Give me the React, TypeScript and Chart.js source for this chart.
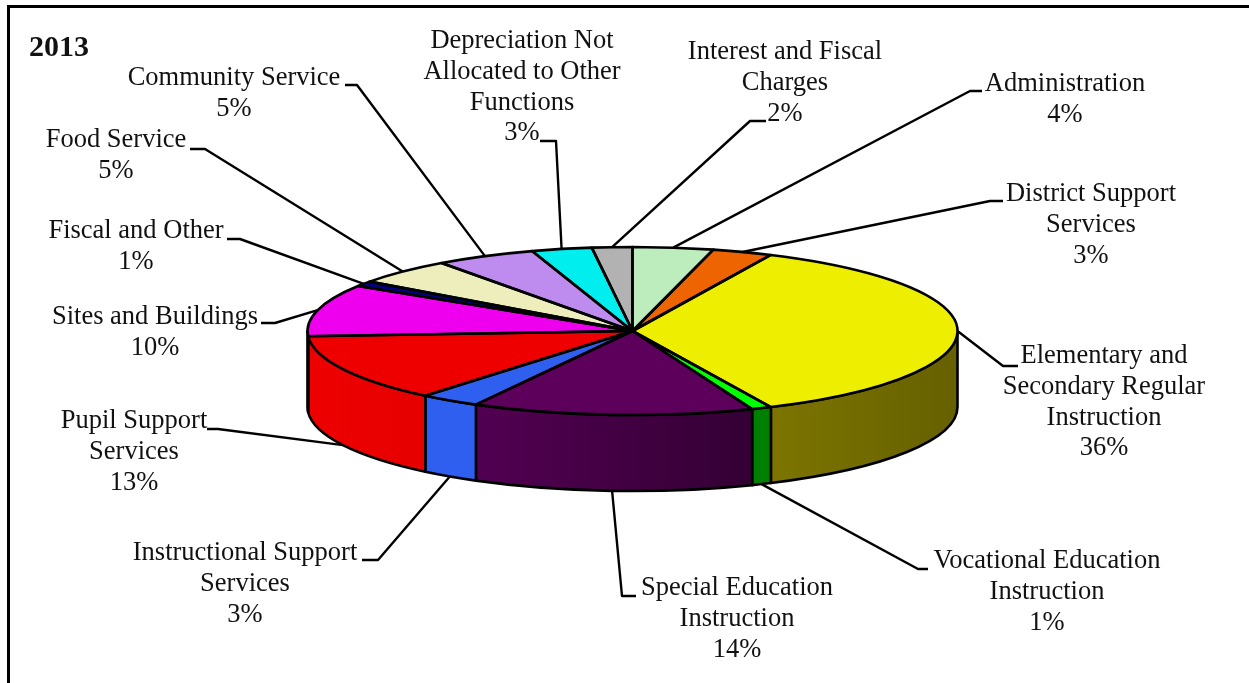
import React, { useEffect, useRef } from "react";
import { Chart, registerables } from "chart.js";

Chart.register(...registerables);

// Spending shares for 2013, clockwise from twelve o'clock.
const categories = [
  ["Administration"],
  ["District Support", "Services"],
  ["Elementary and", "Secondary Regular", "Instruction"],
  ["Vocational Education", "Instruction"],
  ["Special Education", "Instruction"],
  ["Instructional Support", "Services"],
  ["Pupil Support", "Services"],
  ["Sites and Buildings"],
  ["Fiscal and Other"],
  ["Food Service"],
  ["Community Service"],
  ["Depreciation Not", "Allocated to Other", "Functions"],
  ["Interest and Fiscal", "Charges"],
];
const shares = [4, 3, 36, 1, 14, 3, 13, 10, 1, 5, 5, 3, 2];
const yearLabel = "2013";

const topColors = [
  "#BDEDBD", "#EE6400", "#EEEE00", "#00FF00", "#5C005C", "#2F5FEE", "#EE0000",
  "#EE00EE", "#000080", "#EEEEBD", "#BD8CEE", "#00EEEE", "#B2B2B2",
];
// Left and right shade of each slice's outer wall.
const wallColors: [string, string][] = [
  ["#BDEDBD", "#BDEDBD"], ["#EE6400", "#EE6400"], ["#7C7500", "#666000"],
  ["#008000", "#008000"], ["#520052", "#340034"], ["#2F5FEE", "#2F5FEE"],
  ["#EE0000", "#E60000"], ["#EE00EE", "#EE00EE"], ["#000080", "#000080"],
  ["#EEEEBD", "#EEEEBD"], ["#BD8CEE", "#BD8CEE"], ["#00EEEE", "#00EEEE"],
  ["#B2B2B2", "#B2B2B2"],
];

// Label placement per slice: text centre, first line's middle, and the leader's elbow and end.
const labelLayout = [
  { cx: 1065, top: 84.5, elbow: [970, 91], end: [982, 91] },
  { cx: 1091, top: 194.5, elbow: [990, 201], end: [1003, 201] },
  { cx: 1104, top: 356.5, elbow: [1003, 366], end: [1018, 366] },
  { cx: 1047, top: 561.5, elbow: [918, 569], end: [928, 569] },
  { cx: 737, top: 588.5, elbow: [622, 596], end: [636, 596] },
  { cx: 245, top: 553.5, elbow: [378, 560], end: [362, 560] },
  { cx: 134, top: 421.5, elbow: [218, 429], end: [207, 429] },
  { cx: 155, top: 317.5, elbow: [275, 323], end: [261, 323] },
  { cx: 136, top: 231.5, elbow: [240, 239], end: [227, 239] },
  { cx: 116, top: 140.5, elbow: [205, 149], end: [190, 149] },
  { cx: 234, top: 78.5, elbow: [357, 85], end: [345, 85] },
  { cx: 522, top: 41.5, elbow: [556, 141], end: [540, 141] },
  { cx: 785, top: 52.5, elbow: [750, 121], end: [766, 121] },
];

const SQUASH = 0.2585;
const WALL_DEPTH = 76;
const LINE_HEIGHT = 30.6;
const FONT = '"Liberation Serif", "Times New Roman", serif';

// Extrudes the pie: walls go underneath, the tilt is applied while the arcs are drawn,
// and outlines, leaders and labels are stroked afterwards at an even width.
const tiltedPie = {
  id: "tiltedPie",
  beforeDatasetsDraw(chart: any) {
    const { ctx } = chart;
    const arcs = chart.getDatasetMeta(0).data;
    const { x: cx, y: cy, outerRadius: rx } = arcs[0];
    const ry = rx * SQUASH;

    ctx.save();
    ctx.fillStyle = "#000";
    ctx.fillRect(8, 5, 1241, 3);
    ctx.fillRect(7, 5, 3, 678);
    ctx.lineJoin = "round";
    ctx.strokeStyle = "#000";
    ctx.lineWidth = 2.6;
    arcs.forEach((arc: any, i: number) => {
      const a = Math.max(arc.startAngle, 0);
      const b = Math.min(arc.endAngle, Math.PI);
      if (b <= a) return;
      const xa = cx + rx * Math.cos(a);
      const xb = cx + rx * Math.cos(b);
      const shade = ctx.createLinearGradient(xb, 0, xa, 0);
      shade.addColorStop(0, wallColors[i][0]);
      shade.addColorStop(1, wallColors[i][1]);
      ctx.beginPath();
      ctx.ellipse(cx, cy, rx, ry, 0, a, b);
      ctx.ellipse(cx, cy + WALL_DEPTH, rx, ry, 0, b, a, true);
      ctx.closePath();
      ctx.fillStyle = shade;
      ctx.fill();
      ctx.stroke();
    });
    ctx.restore();

    ctx.save();
    ctx.translate(0, cy);
    ctx.scale(1, SQUASH);
    ctx.translate(0, -cy);
  },
  afterDatasetsDraw(chart: any) {
    const { ctx } = chart;
    ctx.restore();
    const arcs = chart.getDatasetMeta(0).data;
    const { x: cx, y: cy, outerRadius: rx } = arcs[0];
    const ry = rx * SQUASH;

    ctx.save();
    ctx.lineJoin = "round";
    ctx.strokeStyle = "#000";
    ctx.lineWidth = 2.6;
    arcs.forEach((arc: any) => {
      ctx.beginPath();
      ctx.moveTo(cx, cy);
      ctx.ellipse(cx, cy, rx, ry, 0, arc.startAngle, arc.endAngle);
      ctx.closePath();
      ctx.stroke();
    });

    // Leaders start at each slice's mid angle, on the wall's foot for slices facing the viewer.
    ctx.lineWidth = 2.4;
    arcs.forEach((arc: any, i: number) => {
      const mid = (arc.startAngle + arc.endAngle) / 2;
      const sin = Math.sin(mid);
      const drop = sin > 0.001 ? WALL_DEPTH : 0;
      const { elbow, end } = labelLayout[i];
      ctx.beginPath();
      ctx.moveTo(cx + rx * Math.cos(mid), cy + ry * sin + drop);
      ctx.lineTo(elbow[0], elbow[1]);
      ctx.lineTo(end[0], end[1]);
      ctx.stroke();
    });

    ctx.fillStyle = "#111";
    ctx.textBaseline = "middle";
    ctx.textAlign = "center";
    ctx.font = `26.5px ${FONT}`;
    categories.forEach((lines, i) => {
      const { cx: tx, top } = labelLayout[i];
      [...lines, `${shares[i]}%`].forEach((line, n) => {
        ctx.fillText(line, tx, top + n * LINE_HEIGHT);
      });
    });

    ctx.textAlign = "left";
    ctx.font = `bold 30px ${FONT}`;
    ctx.fillText(yearLabel, 29, 48);
    ctx.restore();
  },
};

export default function App() {
  const canvasRef = useRef<HTMLCanvasElement | null>(null);

  useEffect(() => {
    document.body.style.margin = "0";
    const chart = new Chart(canvasRef.current as HTMLCanvasElement, {
      type: "pie",
      data: {
        labels: categories.map((lines) => lines.join(" ")),
        datasets: [
          {
            data: shares,
            backgroundColor: topColors,
            borderWidth: 0,
            clip: false,
          },
        ],
      },
      options: {
        animation: false,
        responsive: false,
        layout: { padding: { left: 307.5, right: 291.5, top: 6, bottom: 27 } },
        plugins: { legend: { display: false }, tooltip: { enabled: false } },
      },
      plugins: [tiltedPie],
    } as any);
    return () => chart.destroy();
  }, []);

  return <canvas ref={canvasRef} width={1249} height={683} style={{ display: "block" }} />;
}
